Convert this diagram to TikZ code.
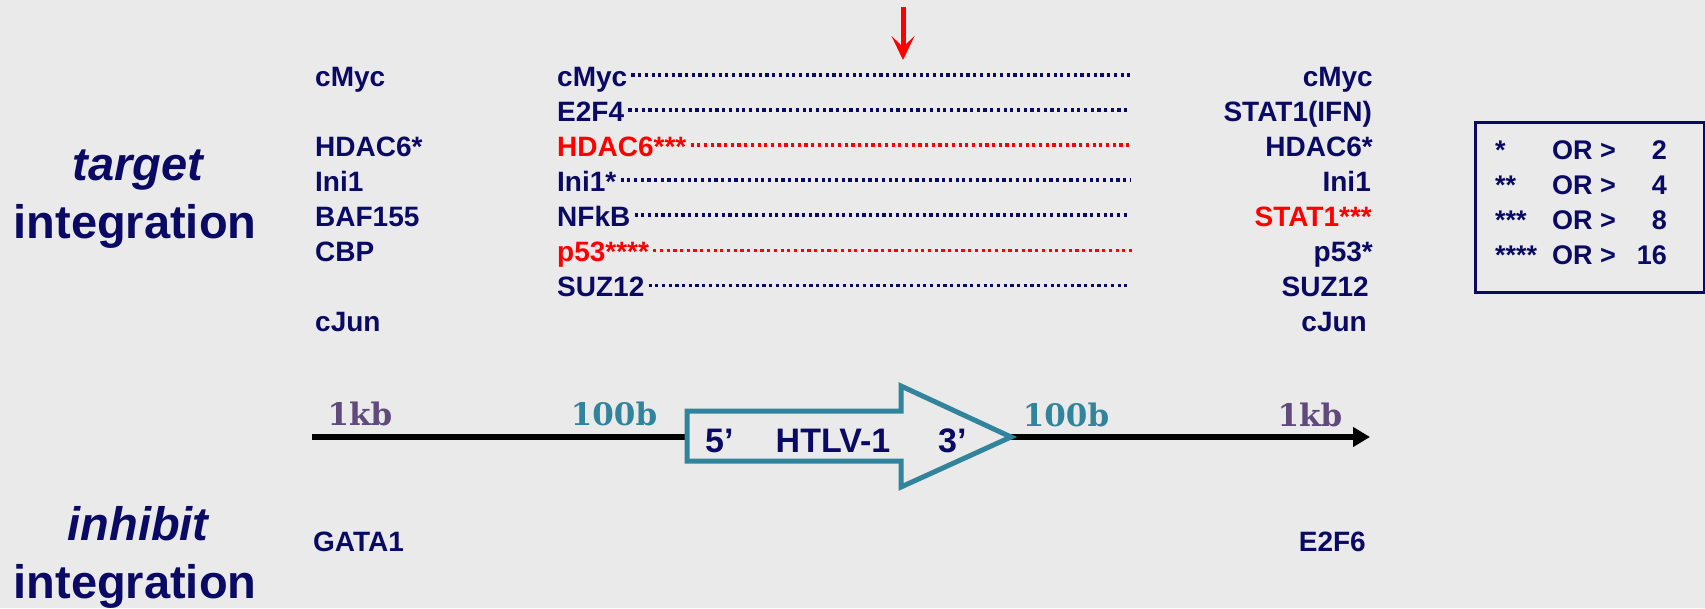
\documentclass[tikz,border=0pt]{standalone}
\usepackage{fontspec}
\setmainfont{Liberation Sans}
\newfontfamily\dvserif{DejaVu Serif}
\usetikzlibrary{arrows.meta}
\definecolor{bg}{RGB}{234,234,234}
\definecolor{navy}{RGB}{10,10,100}
\definecolor{tealc}{RGB}{49,132,155}
\definecolor{purp}{RGB}{96,74,123}
\definecolor{redc}{RGB}{255,0,0}
\begin{document}
\begin{tikzpicture}[x=1pt,y=-1pt,
  gene/.style={inner sep=0pt, font=\fontsize{28}{28}\selectfont\bfseries, text=navy},
  hit/.style={gene, text=redc},
  big/.style={inner sep=0pt, font=\fontsize{47}{47}\selectfont\bfseries, text=navy},
  leg/.style={inner sep=0pt, font=\fontsize{27}{27}\selectfont\bfseries, text=navy},
  scale lbl/.style={inner sep=0pt, font=\fontsize{31}{31}\selectfont\dvserif\bfseries},
  dotline/.style={line width=3.2pt, dash pattern=on 3.2pt off 3.5pt, navy},
  reddot/.style={dotline, redc},
  block/.style={draw=tealc, line width=5pt, fill=bg, line join=miter},
]
\useasboundingbox (0,0) rectangle (1705,608);
\fill[bg] (0,0) rectangle (1705,608);

% red marker arrow
\coordinate (ra) at (903,7);
\coordinate (rb) at (903,60);
\draw[redc, line width=5pt, -{Stealth[length=24pt,width=23pt,inset=11pt]}] (ra) -- (rb);

% side labels
\node[big, anchor=base, font=\fontsize{47}{47}\selectfont\bfseries\itshape] (tgt) at (138,180) {target};
\node[big, anchor=base] (tint) at (135,238) {integration};
\node[big, anchor=base, font=\fontsize{47}{47}\selectfont\bfseries\itshape] (inh) at (138,540) {inhibit};
\node[big, anchor=base] (iint) at (135,598) {integration};

% left column (1kb upstream)
\node[gene, anchor=base west] (l0) at (315,86) {cMyc};
\node[gene, anchor=base west] (l2) at (315,156) {HDAC6*};
\node[gene, anchor=base west] (l3) at (315,191) {Ini1};
\node[gene, anchor=base west] (l4) at (315,226) {BAF155};
\node[gene, anchor=base west] (l5) at (315,261.5) {CBP};
\node[gene, anchor=base west] (l7) at (315,331.7) {cJun};

% middle column (100b)
\node[gene, anchor=base west] (m0) at (557,86) {cMyc};
\node[gene, anchor=base west] (m1) at (557,121) {E2F4};
\node[hit, anchor=base west] (m2) at (557,156) {HDAC6***};
\node[gene, anchor=base west] (m3) at (557,191) {Ini1*};
\node[gene, anchor=base west] (m4) at (557,226) {NFkB};
\node[hit, anchor=base west] (m5) at (557,261.5) {p53****};
\node[gene, anchor=base west] (m6) at (557,296.5) {SUZ12};

% right column
\node[gene, anchor=base east] (r0) at (1373,86) {cMyc};
\node[gene, anchor=base east] (r1) at (1372,121) {STAT1(IFN)};
\node[gene, anchor=base east] (r2) at (1373,156) {HDAC6*};
\node[gene, anchor=base east] (r3) at (1371,191) {Ini1};
\node[hit, anchor=base east] (r4) at (1372,226) {STAT1***};
\node[gene, anchor=base east] (r5) at (1373,261.5) {p53*};
\node[gene, anchor=base east] (r6) at (1369,296.5) {SUZ12};
\node[gene, anchor=base east] (r7) at (1367,331.7) {cJun};

% dotted leaders
\coordinate (e0) at (1133,75);
\coordinate (e1) at (1130,110);
\coordinate (e2) at (1131,145);
\coordinate (e3) at (1130,180);
\coordinate (e4) at (1129,215);
\coordinate (e5) at (1132,250.5);
\coordinate (e6) at (1128,285.5);
\draw[dotline] ([xshift=4pt,yshift=11pt]m0.base east) -- (e0);
\draw[dotline] ([xshift=4pt,yshift=11pt]m1.base east) -- (e1);
\draw[reddot]  ([xshift=4pt,yshift=11pt]m2.base east) -- (e2);
\draw[dotline] ([xshift=4pt,yshift=11pt]m3.base east) -- (e3);
\draw[dotline] ([xshift=4pt,yshift=11pt]m4.base east) -- (e4);
\draw[reddot]  ([xshift=4pt,yshift=11pt]m5.base east) -- (e5);
\draw[dotline] ([xshift=4pt,yshift=11pt]m6.base east) -- (e6);

% legend
\node[draw=navy, line width=2.5pt, minimum width=229pt, minimum height=170pt, inner sep=0pt, anchor=north west] (legbox) at (1474,121) {};
\node[leg, anchor=base west] (s1) at (1495,159) {*};
\node[leg, anchor=base west] (s2) at (1495,194) {**};
\node[leg, anchor=base west] (s3) at (1495,229) {***};
\node[leg, anchor=base west] (s4) at (1495,264) {****};
\node[leg, anchor=base west] (o1) at (1552,159) {OR >};
\node[leg, anchor=base west] (o2) at (1552,194) {OR >};
\node[leg, anchor=base west] (o3) at (1552,229) {OR >};
\node[leg, anchor=base west] (o4) at (1552,264) {OR >};
\node[leg, anchor=base east] (n1) at (1667,159) {2};
\node[leg, anchor=base east] (n2) at (1667,194) {4};
\node[leg, anchor=base east] (n3) at (1667,229) {8};
\node[leg, anchor=base east] (n4) at (1667,264) {16};

% genome line
\coordinate (gs) at (312,437);
\coordinate (ge) at (1370,437);
\draw[black, line width=5.5pt, -{Triangle[length=17pt,width=19pt]}] (gs) -- (ge);

% HTLV-1 block arrow
\draw[block] (687,411) -- (901,411) -- (901,386) -- (1011,437) -- (901,487) -- (901,461) -- (687,461) -- cycle;
\node[inner sep=0pt, font=\fontsize{34}{34}\selectfont\bfseries, text=navy, anchor=base west] (p5) at (705,452) {5’};
\node[inner sep=0pt, font=\fontsize{34}{34}\selectfont\bfseries, text=navy, anchor=base] (htlv) at (833,452) {HTLV-1};
\node[inner sep=0pt, font=\fontsize{34}{34}\selectfont\bfseries, text=navy, anchor=base west] (p3) at (938,452) {3’};

% distance labels
\node[scale lbl, text=purp, anchor=base] (k1) at (360,425) {1kb};
\node[scale lbl, text=tealc, anchor=base] (h1) at (614,425) {100b};
\node[scale lbl, text=tealc, anchor=base] (h2) at (1066,426) {100b};
\node[scale lbl, text=purp, anchor=base] (k2) at (1310,426) {1kb};

% inhibit genes
\node[gene, anchor=base west] (g1) at (313,551) {GATA1};
\node[gene, anchor=base east] (g2) at (1366,551) {E2F6};
\end{tikzpicture}
\end{document}
